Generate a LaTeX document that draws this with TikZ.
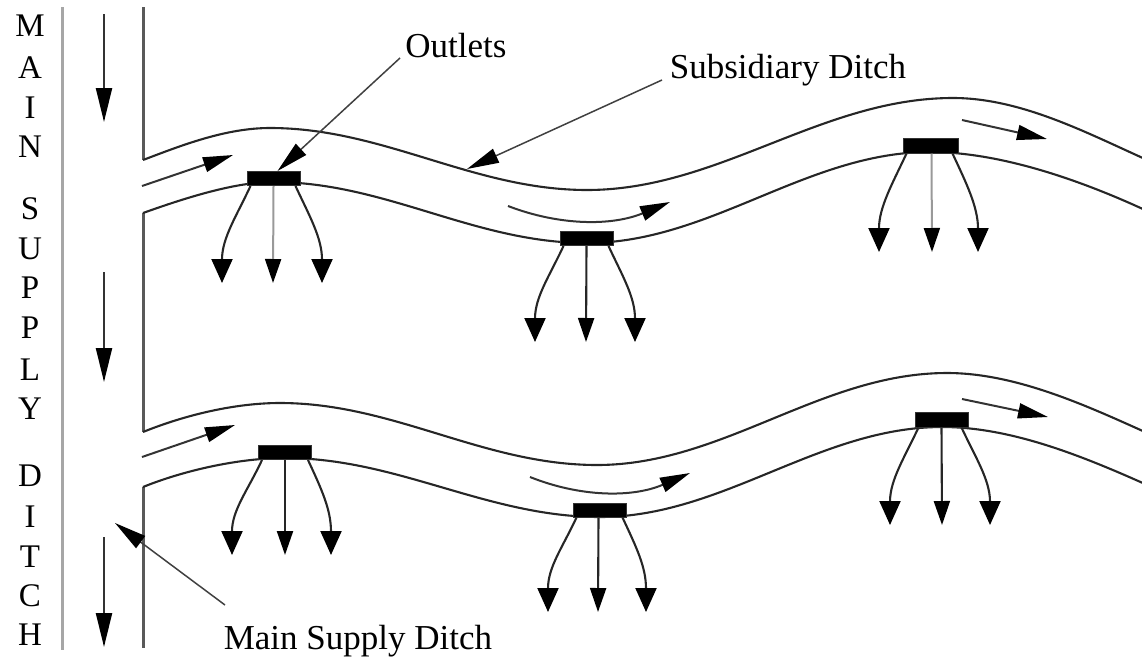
\documentclass[tikz,border=0pt]{standalone}
\usepackage{fontspec}
\setmainfont{Liberation Serif}
\usetikzlibrary{arrows.meta}
\begin{document}
\begin{tikzpicture}[x=1pt,y=-1pt,
  ditch/.style={line width=2.1pt,draw=black!85},
  wallA/.style={line width=3pt,draw=black!35},
  wallB/.style={line width=3pt,draw=black!65},
  flow/.style={line width=2pt,draw=black!80,-{Triangle[length=30pt,width=15pt,color=black]}},
  mainflow/.style={line width=2.2pt,draw=black!80,-{Triangle[length=34pt,width=16pt,color=black]}},
  outlet/.style={fill=black,draw=black!80,line width=1pt,minimum width=53pt,minimum height=14pt,inner sep=0pt},
  drain/.style={line width=2.1pt,draw=black!85,-{Triangle[length=24pt,width=21pt,color=black]}},
  drainmid/.style={line width=2.1pt,draw=black!85,-{Triangle[length=24pt,width=16pt,color=black]}},
  draingray/.style={line width=2pt,draw=black!40,-{Triangle[length=24pt,width=16pt,color=black]}},
  pointer/.style={line width=1.5pt,draw=black!75,-{Triangle[length=32pt,width=15pt,color=black]}},
  letter/.style={anchor=base,inner sep=0pt,font=\fontsize{33}{38}\selectfont},
  label/.style={anchor=base,inner sep=0pt,font=\fontsize{35}{40}\selectfont}]
\useasboundingbox (0,0) rectangle (1142,659);
% vertical letters
\node[letter] (l1) at (30,36.5) {M};
\node[letter] (l2) at (30,78) {A};
\node[letter] (l3) at (30,118) {I};
\node[letter] (l4) at (30,157) {N};
\node[letter] (l5) at (30,219) {S};
\node[letter] (l6) at (30,259) {U};
\node[letter] (l7) at (30,298) {P};
\node[letter] (l8) at (30,338) {P};
\node[letter] (l9) at (30,380) {L};
\node[letter] (l10) at (30,419) {Y};
\node[letter] (l11) at (30,486) {D};
\node[letter] (l12) at (30,527) {I};
\node[letter] (l13) at (30,567) {T};
\node[letter] (l14) at (30,606) {C};
\node[letter] (l15) at (30,645) {H};
% main ditch walls
\coordinate (wa1) at (62,7);
\coordinate (wa2) at (62,650);
\draw[wallA] (wa1) -- (wa2);
\coordinate (wb1) at (143,7);
\coordinate (wb2) at (143,160);
\coordinate (wb3) at (143,213);
\coordinate (wb4) at (143,432);
\coordinate (wb5) at (143,487);
\coordinate (wb6) at (143,648);
\draw[wallB] (wb1) -- (wb2);
\draw[wallB] (wb3) -- (wb4);
\draw[wallB] (wb5) -- (wb6);
% main flow arrows
\coordinate (m1s) at (104,14);  \coordinate (m1e) at (104,122);
\coordinate (m2s) at (104,272); \coordinate (m2e) at (104,382);
\coordinate (m3s) at (104,537); \coordinate (m3e) at (104,647);
\draw[mainflow] (m1s) -- (m1e);
\draw[mainflow] (m2s) -- (m2e);
\draw[mainflow] (m3s) -- (m3e);
% subsidiary ditch 1
\draw[ditch] (wb2) .. controls (180,146) and (225,128) .. (270,128)
  .. controls (384,128) and (473,190) .. (587,190)
  .. controls (719,190) and (821,98) .. (953,98)
  .. controls (1020,98) and (1085,132) .. (1145,159);
\draw[ditch] (wb3) .. controls (185,198) and (235,182) .. (273,182)
  .. controls (386,182) and (474,243) .. (587,243)
  .. controls (710,243) and (807,152) .. (930,152)
  .. controls (1000,152) and (1080,180) .. (1145,210);
% subsidiary ditch 2
\draw[ditch] (wb4) .. controls (185,415) and (235,403) .. (280,403)
  .. controls (394,403) and (483,465) .. (597,465)
  .. controls (723,465) and (821,373) .. (947,373)
  .. controls (1015,373) and (1085,405) .. (1145,432);
\draw[ditch] (wb5) .. controls (185,470) and (240,458) .. (285,458)
  .. controls (398,458) and (487,517) .. (600,517)
  .. controls (723,517) and (819,427) .. (942,427)
  .. controls (1010,427) and (1080,455) .. (1145,484);
% flow arrows in ditches
\coordinate (f1s) at (142,186);  \coordinate (f1e) at (233,155);
\coordinate (f2s) at (508,206);  \coordinate (f2e) at (670,202);
\coordinate (f3s) at (962,120);  \coordinate (f3e) at (1047,139);
\coordinate (f4s) at (142,457);  \coordinate (f4e) at (235,425);
\coordinate (f5s) at (530,477);  \coordinate (f5e) at (690,473);
\coordinate (f6s) at (962,399);  \coordinate (f6e) at (1048,417);
\draw[flow] (f1s) -- (f1e);
\draw[flow] (f2s) .. controls (560,226) and (612,226) .. (f2e);
\draw[flow] (f3s) -- (f3e);
\draw[flow] (f4s) -- (f4e);
\draw[flow] (f5s) .. controls (580,497) and (632,498) .. (f5e);
\draw[flow] (f6s) -- (f6e);
% outlets
\node[outlet] (o11) at (273.5,178.5) {};
\node[outlet] (o12) at (586.5,238.5) {};
\node[outlet,minimum width=55pt,minimum height=15pt] (o13) at (930.5,145.5) {};
\node[outlet] (o21) at (285,452.5) {};
\node[outlet] (o22) at (599.5,510) {};
\node[outlet,minimum height=15pt] (o23) at (941.5,419.5) {};
% drain tips
\coordinate (t11a) at (222,283); \coordinate (t11b) at (273,283); \coordinate (t11c) at (322,283);
\coordinate (t12a) at (535,342); \coordinate (t12b) at (586,342); \coordinate (t12c) at (635,342);
\coordinate (t13a) at (879,252); \coordinate (t13b) at (932,252); \coordinate (t13c) at (978,252);
\coordinate (t21a) at (232,555); \coordinate (t21b) at (285,555); \coordinate (t21c) at (331,555);
\coordinate (t22a) at (548,612); \coordinate (t22b) at (598,612); \coordinate (t22c) at (646,612);
\coordinate (t23a) at (890,525); \coordinate (t23b) at (942,525); \coordinate (t23c) at (990,525);
% drains ditch 1
\draw[drain] ([xshift=4pt]o11.south west) .. controls +(-14,30) and +(0,-45) .. (t11a);
\draw[draingray] (o11.south) -- (t11b);
\draw[drain] ([xshift=-5pt]o11.south east) .. controls +(14,30) and +(0,-45) .. (t11c);
\draw[drain] ([xshift=4pt]o12.south west) .. controls +(-14,30) and +(0,-45) .. (t12a);
\draw[drainmid] (o12.south) -- (t12b);
\draw[drain] ([xshift=-5pt]o12.south east) .. controls +(14,30) and +(0,-45) .. (t12c);
\draw[drain] ([xshift=4pt]o13.south west) .. controls +(-14,30) and +(0,-45) .. (t13a);
\draw[draingray] ([xshift=1pt]o13.south) -- (t13b);
\draw[drain] ([xshift=-6pt]o13.south east) .. controls +(14,30) and +(0,-45) .. (t13c);
% drains ditch 2
\draw[drain] ([xshift=4pt]o21.south west) .. controls +(-14,30) and +(0,-45) .. (t21a);
\draw[drainmid] (o21.south) -- (t21b);
\draw[drain] ([xshift=-4pt]o21.south east) .. controls +(14,30) and +(0,-45) .. (t21c);
\draw[drain] ([xshift=4pt]o22.south west) .. controls +(-14,30) and +(0,-45) .. (t22a);
\draw[drainmid] ([xshift=-1pt]o22.south) -- (t22b);
\draw[drain] ([xshift=-4pt]o22.south east) .. controls +(14,30) and +(0,-45) .. (t22c);
\draw[drain] ([xshift=4pt]o23.south west) .. controls +(-14,30) and +(0,-45) .. (t23a);
\draw[drainmid] (o23.south) -- (t23b);
\draw[drain] ([xshift=-7pt]o23.south east) .. controls +(14,30) and +(0,-45) .. (t23c);
% labels
\node[label] (lout) at (456,57) {Outlets};
\node[label] (lsub) at (788,78) {Subsidiary Ditch};
\node[label] (lmsd) at (358,649) {Main Supply Ditch};
\coordinate (pout) at (400,58);
\coordinate (psub) at (662,80);
\coordinate (psubtip) at (467,169);
\coordinate (pmsd) at (225,605);
\coordinate (pmsdtip) at (115,523);
\draw[pointer] (pout) -- ([xshift=4pt]o11.north);
\draw[pointer] (psub) -- (psubtip);
\draw[pointer] (pmsd) -- (pmsdtip);
\end{tikzpicture}
\end{document}
